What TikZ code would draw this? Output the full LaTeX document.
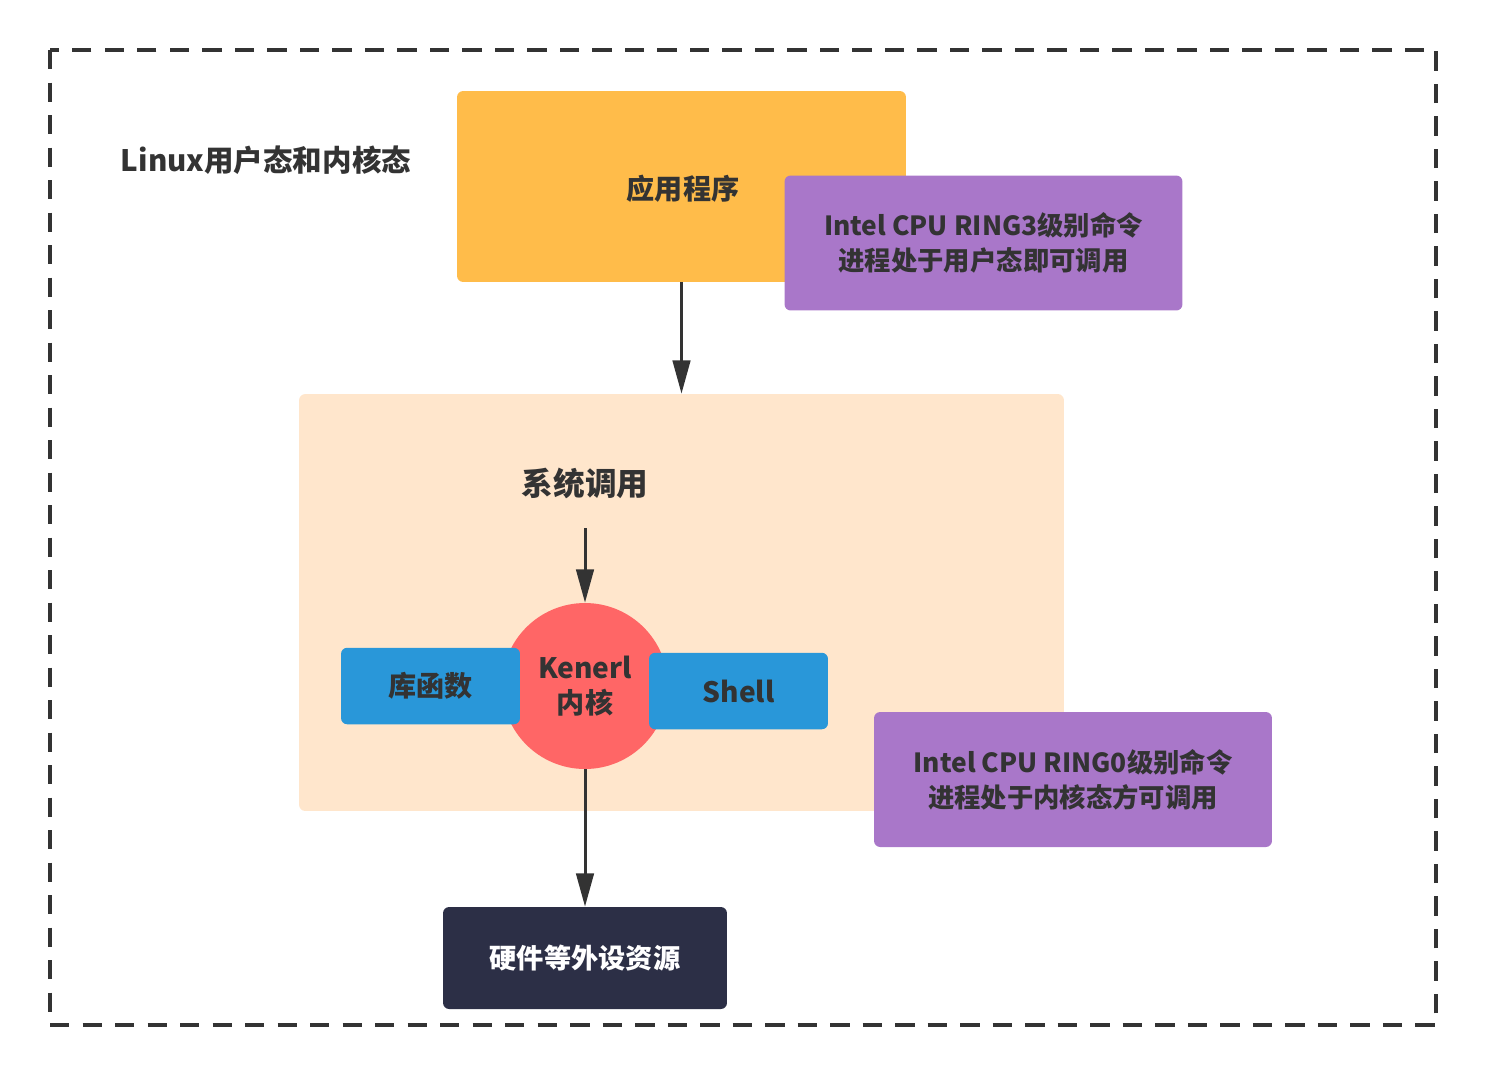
\documentclass[tikz,border=0pt]{standalone}
\usepackage{fontspec}
\setmainfont{Noto Sans CJK SC}
\usetikzlibrary{arrows.meta}

\definecolor{txtgray}{HTML}{333333}
\definecolor{apporange}{HTML}{FFBC4A}
\definecolor{ringpurple}{HTML}{A977C9}
\definecolor{kernpeach}{HTML}{FFE6CC}
\definecolor{kernred}{HTML}{FF6666}
\definecolor{libblue}{HTML}{2997D9}
\definecolor{hwdark}{HTML}{2C2F46}

\tikzset{
  box/.style={rectangle, rounded corners=3.5pt, inner sep=0pt, text=txtgray, font=\bfseries\fontsize{15}{19}\selectfont, align=center},
  ringbox/.style={box, fill=ringpurple, minimum width=7.96cm, minimum height=2.7cm},
  bluebox/.style={box, fill=libblue, minimum width=3.58cm, minimum height=1.53cm, font=\bfseries\fontsize{16}{19}\selectfont},
  arr/.style={-{Triangle[length=19pt, width=10pt]}, line width=1.7pt, txtgray}
}

\begin{document}
\begin{tikzpicture}[x=0.02cm, y=-0.02cm]
        \useasboundingbox (0,0) rectangle (1486,1076);
        \draw[txtgray, line width=2.3pt, dash pattern=on 11pt off 7.5pt] (50,50) rectangle (1436,1025);

        \node[text=txtgray, font=\bfseries\fontsize{16.8}{19}\selectfont] (title) at (266,160) {Linux用户态和内核态};

        \node[box, fill=apporange, minimum width=8.98cm, minimum height=3.82cm] (app) at (681.5,186.5) {};
        \node[box, font=\bfseries\fontsize{16}{19}\selectfont] (applabel) at (683,189) {应用程序};
        \node[ringbox] (ring3) at (983.5,243) {Intel CPU RING3级别命令\\[1pt]进程处于用户态即可调用};

        \node[box, fill=kernpeach, minimum width=15.3cm, minimum height=8.34cm] (sys) at (681.5,602.5) {};
        \node[box, font=\bfseries\fontsize{18}{21}\selectfont] (syscall) at (585,483) {系统调用};
        \coordinate (callin) at (585,528);

        \node[circle, fill=kernred, minimum size=3.32cm, inner sep=0pt, text=txtgray, align=center, font=\bfseries\fontsize{16}{20}\selectfont] (kernel) at (585,686) {Kenerl\\内核};
        \node[bluebox] (lib) at (430.5,686) {库函数};
        \node[bluebox] (shell) at (738.5,691) {Shell};

        \node[ringbox] (ring0) at (1073,779.5) {Intel CPU RING0级别命令\\[1pt]进程处于内核态方可调用};

        \node[box, fill=hwdark, text=white, minimum width=5.68cm, minimum height=2.04cm, font=\bfseries\fontsize{15.5}{19}\selectfont] (hw) at (585,958) {硬件等外设资源};

        \draw[arr] (app.south) -- (sys.north);
        \draw[arr] (callin) -- (kernel.north);
        \draw[arr] (kernel.south) -- (hw.north);
\end{tikzpicture}
\end{document}
